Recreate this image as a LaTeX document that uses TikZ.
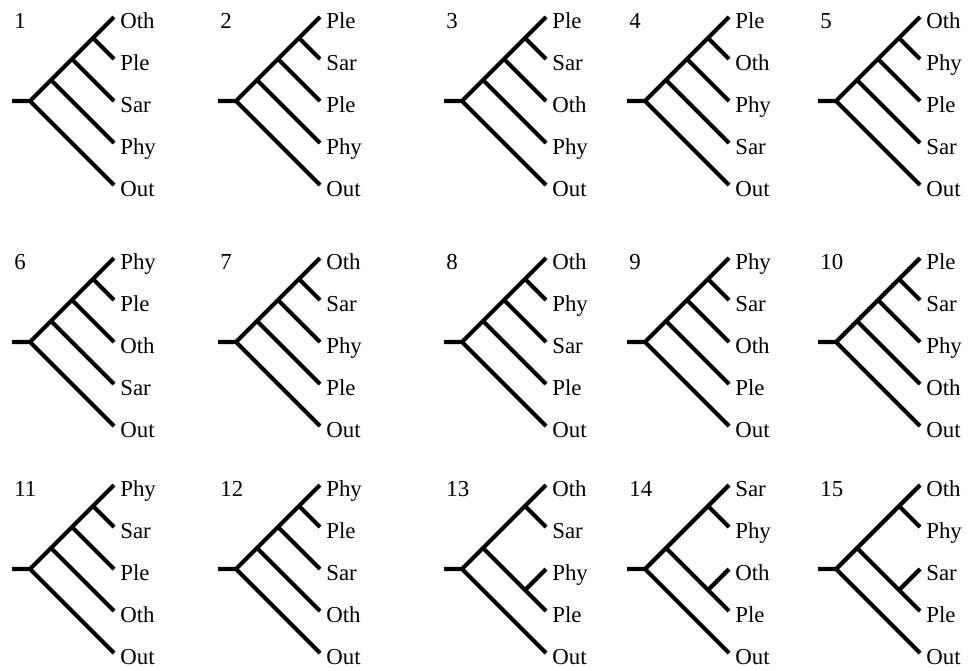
\documentclass[tikz,border=0pt]{standalone}
\usepackage{fontspec}
\setmainfont{Liberation Serif}
\begin{document}
\begin{tikzpicture}[
x=0.02cm, y=-0.02cm,
branch/.style={line width=2.4pt},
taxon/.style={anchor=base west, inner sep=0pt, font=\fontsize{13}{15}\selectfont},
num/.style={anchor=base west, inner sep=0pt, font=\fontsize{13}{15}\selectfont}
]

\def\d{42}
\def\stub{18}

\useasboundingbox (0,0) rectangle (970,670);

%%% Trees: number/root x/root y/third node/taxa from top
\foreach \n/\x/\y/\cx/\cy/\first/\second/\third/\fourth in {
	1/30/101/42/-42/Oth/Ple/Sar/Phy,
	2/236/101/42/-42/Ple/Sar/Ple/Phy,
	3/462/101/42/-42/Ple/Sar/Oth/Phy,
	4/645/101/42/-42/Ple/Oth/Phy/Sar,
	5/836/101/42/-42/Oth/Phy/Ple/Sar,
	6/30/342/42/-42/Phy/Ple/Oth/Sar,
	7/236/342/42/-42/Oth/Sar/Phy/Ple,
	8/462/342/42/-42/Oth/Phy/Sar/Ple,
	9/645/342/42/-42/Phy/Sar/Oth/Ple,
	10/836/342/42/-42/Ple/Sar/Phy/Oth,
	11/30/569/42/-42/Phy/Sar/Ple/Oth,
	12/236/569/42/-42/Phy/Ple/Sar/Oth,
	13/462/569/63/21/Oth/Sar/Phy/Ple,
	14/645/569/63/21/Sar/Phy/Oth/Ple,
	15/836/569/63/21/Oth/Phy/Sar/Ple
	}{
	\path (\x,\y) coordinate(r\n) ++(-\stub,0) coordinate(s\n);
	\foreach[count=\i] \taxname in {\first,\second,\third,\fourth,Out}{
		\path (r\n)++(2*\d,{(\i-3)*\d}) coordinate(t\n-\i) ++(6,11) node[taxon](l\n-\i){\taxname};
	}
	\path (r\n)++(\d/2,-\d/2) coordinate(u\n);
	\path (r\n)++(\cx,\cy) coordinate(v\n);
	\path (r\n)++(3*\d/2,-3*\d/2) coordinate(w\n);
	\draw[branch] (s\n)--(r\n) (t\n-1)--(r\n)--(t\n-5)
		(u\n)--(t\n-4) (v\n)--(t\n-3) (w\n)--(t\n-2);
	\path (s\n)++(2,-2*\d+11) node[num](n\n){\n};
}

\end{tikzpicture}
\end{document}
